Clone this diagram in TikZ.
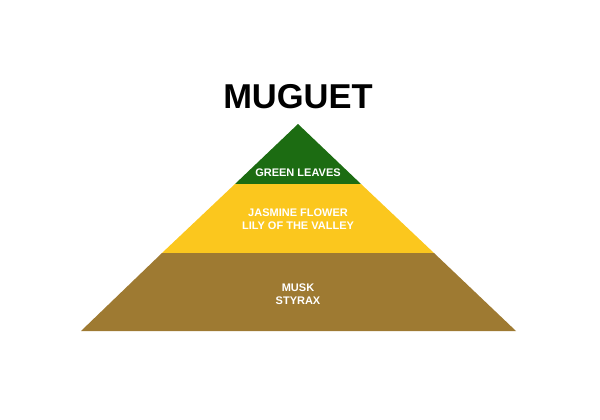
\documentclass[tikz,border=0pt]{standalone}
\usepackage{fontspec}
\setmainfont{Liberation Sans}
\definecolor{leafgreen}{RGB}{28,108,18}
\definecolor{jasmineyellow}{RGB}{251,199,30}
\definecolor{muskbrown}{RGB}{158,122,50}
\begin{document}
\begin{tikzpicture}[x=1pt, y=-1pt,
    title/.style={font=\fontsize{34.5}{36}\selectfont\bfseries, inner sep=0pt},
    note/.style={text=white, align=center, inner sep=0pt, font=\fontsize{11}{12.5}\selectfont\bfseries}
  ]
  \useasboundingbox (0,0) rectangle (600,420);
  % pyramid bands
  \fill[leafgreen] (298,124) -- (361,184) -- (235,184) -- cycle;
  \fill[jasmineyellow] (235,184) -- (361,184) -- (434,253) -- (162,253) -- cycle;
  \fill[muskbrown] (162,253) -- (434,253) -- (516,331) -- (81,331) -- cycle;

  \node[title] (muguet) at (298,97) {MUGUET};
  \node[note] (top) at (298,173) {GREEN LEAVES};
  \node[note] (heart) at (298,219) {JASMINE FLOWER\\LILY OF THE VALLEY};
  \node[note] (base) at (298,294) {MUSK\\STYRAX};
\end{tikzpicture}
\end{document}
